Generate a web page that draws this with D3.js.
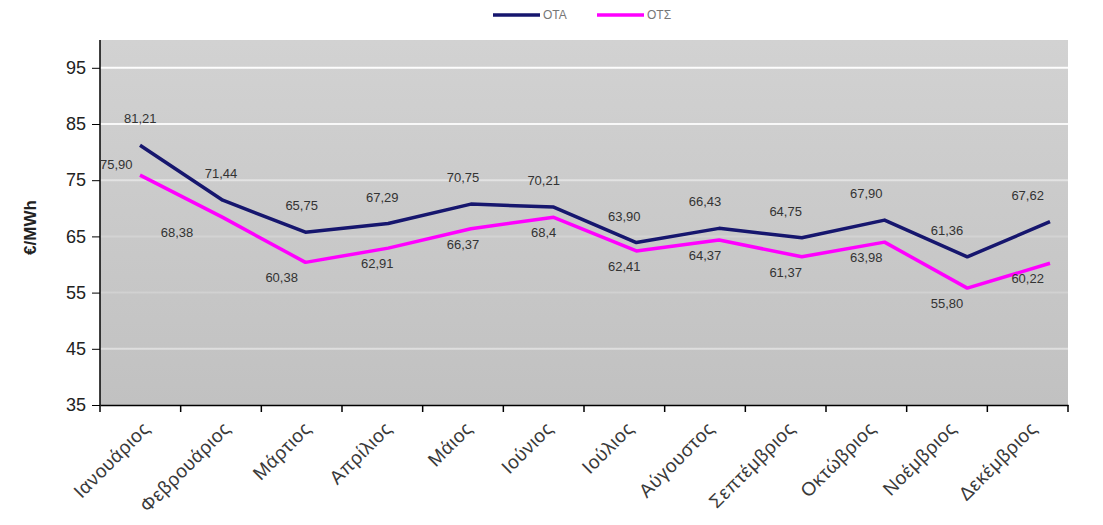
<!DOCTYPE html>
<html><head><meta charset="utf-8">
<script src="https://cdn.jsdelivr.net/npm/d3@7"></script>
<style>body{margin:0;background:#fff;} svg{display:block;font-family:Arial, "Liberation Sans", sans-serif;}</style>
</head><body><svg id="c" width="1103" height="525"></svg>
<script>
const months = ["Ιανουάριος","Φεβρουάριος","Μάρτιος","Απρίλιος","Μάιος","Ιούνιος","Ιούλιος","Αύγουστος","Σεπτέμβριος","Οκτώβριος","Νοέμβριος","Δεκέμβριος"];
const seriesNames = ["ΟΤΑ","ΟΤΣ"];
const ota = [81.21,71.44,65.75,67.29,70.75,70.21,63.90,66.43,64.75,67.90,61.36,67.62];
const ots = [75.90,68.38,60.38,62.91,66.37,68.4,62.41,64.37,61.37,63.98,55.80,60.22];
const yTicks = [35,45,55,65,75,85,95];
const colors = ["#16166e","#ff00ff"];

const svg = d3.select("#c");
const L=100, R=1068, T=40, B=405;

const x = d3.scaleBand().domain(months).range([L,R]);
const xLine = d3.scalePoint().domain(months).range([140,1050]);
const y = d3.scaleLinear().domain([35,100]).range([B, B-(65*5.62)]);

const defs = svg.append("defs");
const g = defs.append("linearGradient").attr("id","bg").attr("x1",0).attr("y1",0).attr("x2",0).attr("y2",1);
g.append("stop").attr("offset","0%").attr("stop-color","#d2d2d2");
g.append("stop").attr("offset","100%").attr("stop-color","#c1c1c1");

svg.append("rect").attr("x",L).attr("y",T).attr("width",R-L).attr("height",B-T).attr("fill","url(#bg)");

// gridlines
const gridOp = {95:0.95,85:0.85,75:0.45,65:0.2,55:0.2,45:0.45};
svg.append("g").selectAll("line").data(yTicks.filter(d=>d>35)).join("line")
  .attr("x1",L).attr("x2",R).attr("y1",d=>y(d)).attr("y2",d=>y(d))
  .attr("stroke","#fff").attr("stroke-width",2).attr("stroke-opacity",d=>gridOp[d]);

// y axis
const ya = svg.append("g").attr("transform",`translate(${L},0)`)
  .call(d3.axisLeft(y).tickValues(yTicks).tickSize(8).tickPadding(6));
ya.select(".domain").attr("stroke","#000").attr("stroke-width",1.5).attr("d",`M-0,${y(35)}V${T}`);
ya.selectAll("text").attr("font-size",18).attr("fill","#222");
ya.selectAll(".tick line").attr("stroke","#000");

// x axis
const xa = svg.append("g").attr("transform",`translate(0,${B})`)
  .call(d3.axisBottom(x).tickSize(0).tickFormat(""));
xa.select(".domain").attr("stroke","#000").attr("stroke-width",1.5);
const bounds = months.map(m=>x(m)).concat([R]);
xa.selectAll("line.bt").data(bounds).join("line").attr("class","bt")
  .attr("x1",d=>d).attr("x2",d=>d).attr("y1",0).attr("y2",7).attr("stroke","#000").attr("stroke-width",1.5);
svg.append("g").selectAll("text").data(months).join("text")
  .attr("transform",d=>`translate(${x(d)+x.bandwidth()/2+6},${B+20}) rotate(-45)`)
  .attr("text-anchor","end").attr("dy","0.35em").attr("letter-spacing","0.6")
  .attr("font-size",19).attr("fill","#3a3a3a").text(d=>d);

// y title
svg.append("text").attr("transform",`translate(36,${(T+B)/2+5}) rotate(-90)`)
  .attr("text-anchor","middle").attr("font-size",17).attr("font-weight","bold").attr("fill","#222").text("€/MWh");

// lines
const line = d3.line().x((d,i)=>xLine(months[i])).y(d=>y(d));
[ota,ots].forEach((s,k)=>{
  svg.append("path").datum(s).attr("d",line).attr("fill","none")
    .attr("stroke",colors[k]).attr("stroke-width",3.5).attr("stroke-linejoin","round");
});

// data labels
const fmt = v => String(v).replace(".",",");
const fmt2 = v => v.toFixed(2).replace(".",",");
svg.append("g").selectAll("text").data(ota).join("text")
  .attr("x",(d,i)=>x(months[i])+x.bandwidth()/2).attr("y",d=>y(d)-22)
  .attr("text-anchor","middle").attr("font-size",13).attr("fill","#333").text(d=>fmt2(d));
const otsDx = [-24,-44,-20,-5,0,0,0,0,0,0,0,0];
svg.append("g").selectAll("text").data(ots).join("text")
  .attr("x",(d,i)=>x(months[i])+x.bandwidth()/2+otsDx[i]).attr("y",(d,i)=>i===0?y(d)-6:y(d)+20)
  .attr("text-anchor","middle").attr("font-size",13).attr("fill","#333")
  .text((d,i)=> i===5 ? fmt(d) : fmt2(d));

// legend
const lg = svg.append("g").attr("transform","translate(493,15)");
seriesNames.forEach((n,k)=>{
  const o = k*104;
  lg.append("line").attr("x1",o).attr("x2",o+47).attr("y1",0).attr("y2",0).attr("stroke",colors[k]).attr("stroke-width",3.5);
  lg.append("text").attr("x",o+50).attr("y",4).attr("font-size",12).attr("fill","#777").text(n);
});
</script></body></html>
